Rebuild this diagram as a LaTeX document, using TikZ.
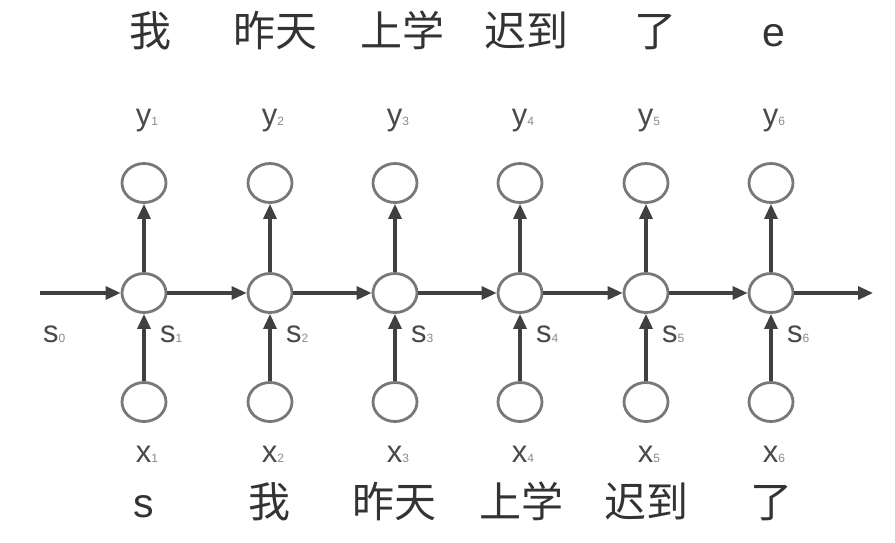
\documentclass[tikz,border=0pt]{standalone}
\usepackage{fontspec}
\setmainfont{Liberation Sans}
\newfontfamily\cjk{Noto Sans CJK SC}
\usetikzlibrary{arrows.meta,shapes.geometric}
\definecolor{linec}{HTML}{404040}
\definecolor{circc}{HTML}{787878}
\definecolor{txtc}{HTML}{4A4A4A}
\definecolor{subc}{HTML}{8A8A8A}
\definecolor{wordc}{HTML}{333333}
\newcommand{\lab}[2]{#1{\fontsize{12}{12}\selectfont\color{subc}#2}}
\begin{document}
\begin{tikzpicture}[x=1pt,y=-1pt,
  cell/.style={shape=ellipse,draw=circc,line width=2.8pt,minimum width=44pt,minimum height=39pt,inner sep=0pt},
  conn/.style={draw=linec,line width=3.2pt,-{Triangle[length=15pt,width=13pt]}},
  word/.style={anchor=base,inner sep=0pt,text=wordc,font=\fontsize{41}{41}\selectfont},
  cword/.style={word,font=\cjk\fontsize{42}{42}\selectfont},
  lbl/.style={anchor=base,inner sep=0pt,text=txtc,font=\fontsize{31}{31}\selectfont},
  slbl/.style={anchor=base west,inner sep=0pt,text=txtc,font=\fontsize{31}{31}\selectfont}]
\useasboundingbox (0,0) rectangle (895,543);
% columns
\foreach \i/\x in {1/144,2/270,3/395,4/520,5/646,6/771}{
  \node[cell] (h\i) at (\x,293) {};
  \node[cell] (o\i) at (\x,183) {};
  \node[cell] (in\i) at (\x,402) {};
  \draw[conn] (in\i) -- (h\i);
  \draw[conn] (h\i) -- (o\i);
  \node[lbl] (yl\i) at (\x+3,125) {\lab{y}{\i}};
  \node[lbl] (xl\i) at (\x+3,462) {\lab{x}{\i}};
  \node[slbl] (sl\i) at (\x+16,342) {\lab{s}{\i}};
}
\node[slbl] (sl0) at (43,342) {\lab{s}{0}};
\coordinate (start) at (40,293);
\coordinate (end) at (873,293);
\draw[conn] (start) -- (h1);
\draw[conn] (h1) -- (h2);
\draw[conn] (h2) -- (h3);
\draw[conn] (h3) -- (h4);
\draw[conn] (h4) -- (h5);
\draw[conn] (h5) -- (h6);
\draw[conn] (h6) -- (end);
% top words
\node[cword] (t1) at (150,47) {我};
\node[cword] (t2) at (275,47) {昨天};
\node[cword] (t3) at (402,47) {上学};
\node[cword] (t4) at (526,47) {迟到};
\node[cword] (t5) at (655,47) {了};
\node[word] (t6) at (774,47) {e};
% bottom words
\node[word] (b1) at (144,517) {s};
\node[cword] (b2) at (269,517) {我};
\node[cword] (b3) at (394,517) {昨天};
\node[cword] (b4) at (521,517) {上学};
\node[cword] (b5) at (646,517) {迟到};
\node[cword] (b6) at (771,517) {了};
\end{tikzpicture}
\end{document}
